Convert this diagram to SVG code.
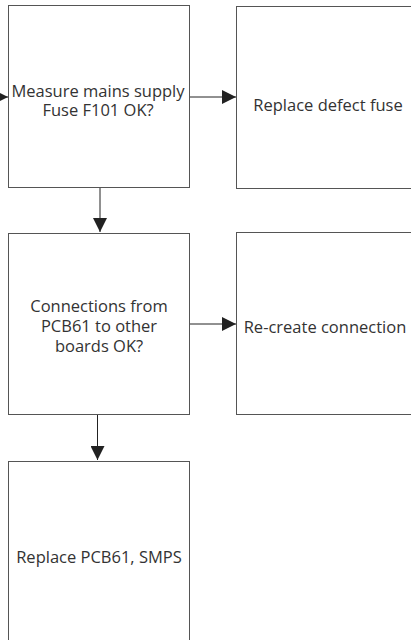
<svg xmlns="http://www.w3.org/2000/svg" width="411" height="640" viewBox="0 0 411 640">
<style>
.box{fill:#fff;stroke:#555;stroke-width:1}
.t{font-family:"Open Sans","Noto Sans",sans-serif;font-size:16.5px;fill:#333;text-anchor:middle}
.c{stroke:#222;stroke-width:1;fill:none}
</style>
<defs>
<marker id="ah" markerWidth="14" markerHeight="14" refX="14" refY="7" orient="auto" markerUnits="userSpaceOnUse">
<path d="M0,0 L14,7 L0,14 Z" fill="#222"/>
</marker>
</defs>
<rect width="411" height="640" fill="#fff"/>
<g id="connectors">
<path class="c" d="M0,97 L8,97" marker-end="url(#ah)"/>
<path class="c" d="M190,97 L236,97" marker-end="url(#ah)"/>
<path class="c" d="M100,188 L100,232" marker-end="url(#ah)"/>
<path class="c" d="M190,324 L236,324" marker-end="url(#ah)"/>
<path class="c" d="M97.5,415 L97.5,460" marker-end="url(#ah)"/>
</g>
<g id="n1">
<rect class="box" x="8.5" y="5.5" width="181" height="182"/>
<text class="t" x="98" y="97">Measure mains supply</text>
<text class="t" x="98" y="116">Fuse F101 OK?</text>
</g>
<g id="n2">
<rect class="box" x="236.5" y="6.5" width="190" height="182"/>
<text class="t" x="328" y="111">Replace defect fuse</text>
</g>
<g id="n3">
<rect class="box" x="8.5" y="233.5" width="181" height="181"/>
<text class="t" x="99" y="312">Connections from</text>
<text class="t" x="99" y="332">PCB61 to other</text>
<text class="t" x="99" y="352">boards OK?</text>
</g>
<g id="n4">
<rect class="box" x="236.5" y="232.5" width="190" height="182"/>
<text class="t" x="325" y="333">Re-create connection</text>
</g>
<g id="n5">
<rect class="box" x="8.5" y="461.5" width="181" height="190"/>
<text class="t" x="99" y="563">Replace PCB61, SMPS</text>
</g>
</svg>
